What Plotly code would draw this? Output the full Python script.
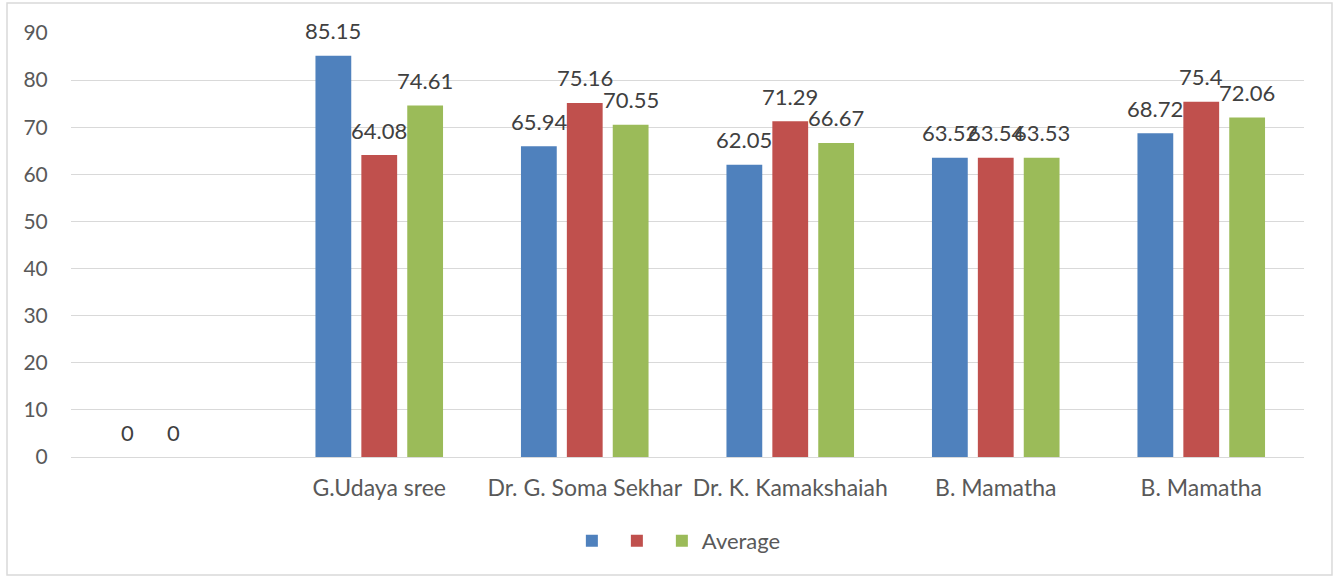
import plotly.graph_objects as go

categories = ["", "G.Udaya sree", "Dr. G. Soma Sekhar", "Dr. K. Kamakshaiah", "B. Mamatha", "B. Mamatha"]
series1 = [0, 85.15, 65.94, 62.05, 63.52, 68.72]
series2 = [0, 64.08, 75.16, 71.29, 63.54, 75.4]
average = [None, 74.61, 70.55, 66.67, 63.53, 72.06]
yticks = [0, 10, 20, 30, 40, 50, 60, 70, 80, 90]

series = [
    ("", series1, "#4f81bd"),
    ("", series2, "#c0504d"),
    ("Average", average, "#9bbb59"),
]

FONT = "Lato"
TXT = "#595959"
BARGAP = 0.33

x = list(range(len(categories)))
fig = go.Figure()
n = len(series)
slot = (1 - BARGAP) / n
annotations = []
for k, (name, vals, color) in enumerate(series):
    fig.add_trace(go.Bar(
        x=x, y=vals, name=name, marker=dict(color=color, line=dict(width=0)),
        hoverinfo="skip",
    ))
    off = (k - (n - 1) / 2) * slot
    for xi, v in zip(x, vals):
        if v is None:
            continue
        annotations.append(dict(
            x=xi + off, y=v, xref="x", yref="y", text=f"{v:g}", showarrow=False,
            yanchor="middle", xanchor="center", yshift=25,
            font=dict(family=FONT, size=22, color="#404040"),
        ))

fig.update_layout(
    width=1343, height=577,
    margin=dict(l=71, r=39, t=33, b=120),
    paper_bgcolor="white", plot_bgcolor="white",
    barmode="group", bargap=BARGAP, bargroupgap=0.22,
    font=dict(family=FONT, size=21, color=TXT),
    showlegend=True,
    legend=dict(orientation="h", x=0.493, xanchor="center", y=-0.198, yanchor="middle",
                itemwidth=30, font=dict(family=FONT, size=22, color=TXT)),
    xaxis=dict(tickmode="array", tickvals=x, ticktext=categories, range=[-0.5, 5.5],
               showgrid=False, showline=False, zeroline=False,
               ticks="outside", ticklen=10, tickcolor="rgba(0,0,0,0)",
               tickfont=dict(family=FONT, size=23, color=TXT)),
    yaxis=dict(range=[0, 90], tickvals=yticks, showgrid=True, gridcolor="#d9d9d9", gridwidth=1,
               zeroline=True, zerolinecolor="#d9d9d9", zerolinewidth=1, showline=False,
               ticks="outside", ticklen=18, tickcolor="rgba(0,0,0,0)",
               tickfont=dict(family=FONT, size=21, color=TXT)),
    annotations=annotations,
    shapes=[dict(type="rect", xref="paper", yref="paper",
                 x0=-0.0519, x1=1.0227, y0=-0.2783, y1=1.0708,
                 line=dict(color="#d9d9d9", width=1.5), fillcolor="rgba(0,0,0,0)")],
)

fig.write_html("out.html", config={"displayModeBar": False},
               post_script="document.body.style.margin='0';")
